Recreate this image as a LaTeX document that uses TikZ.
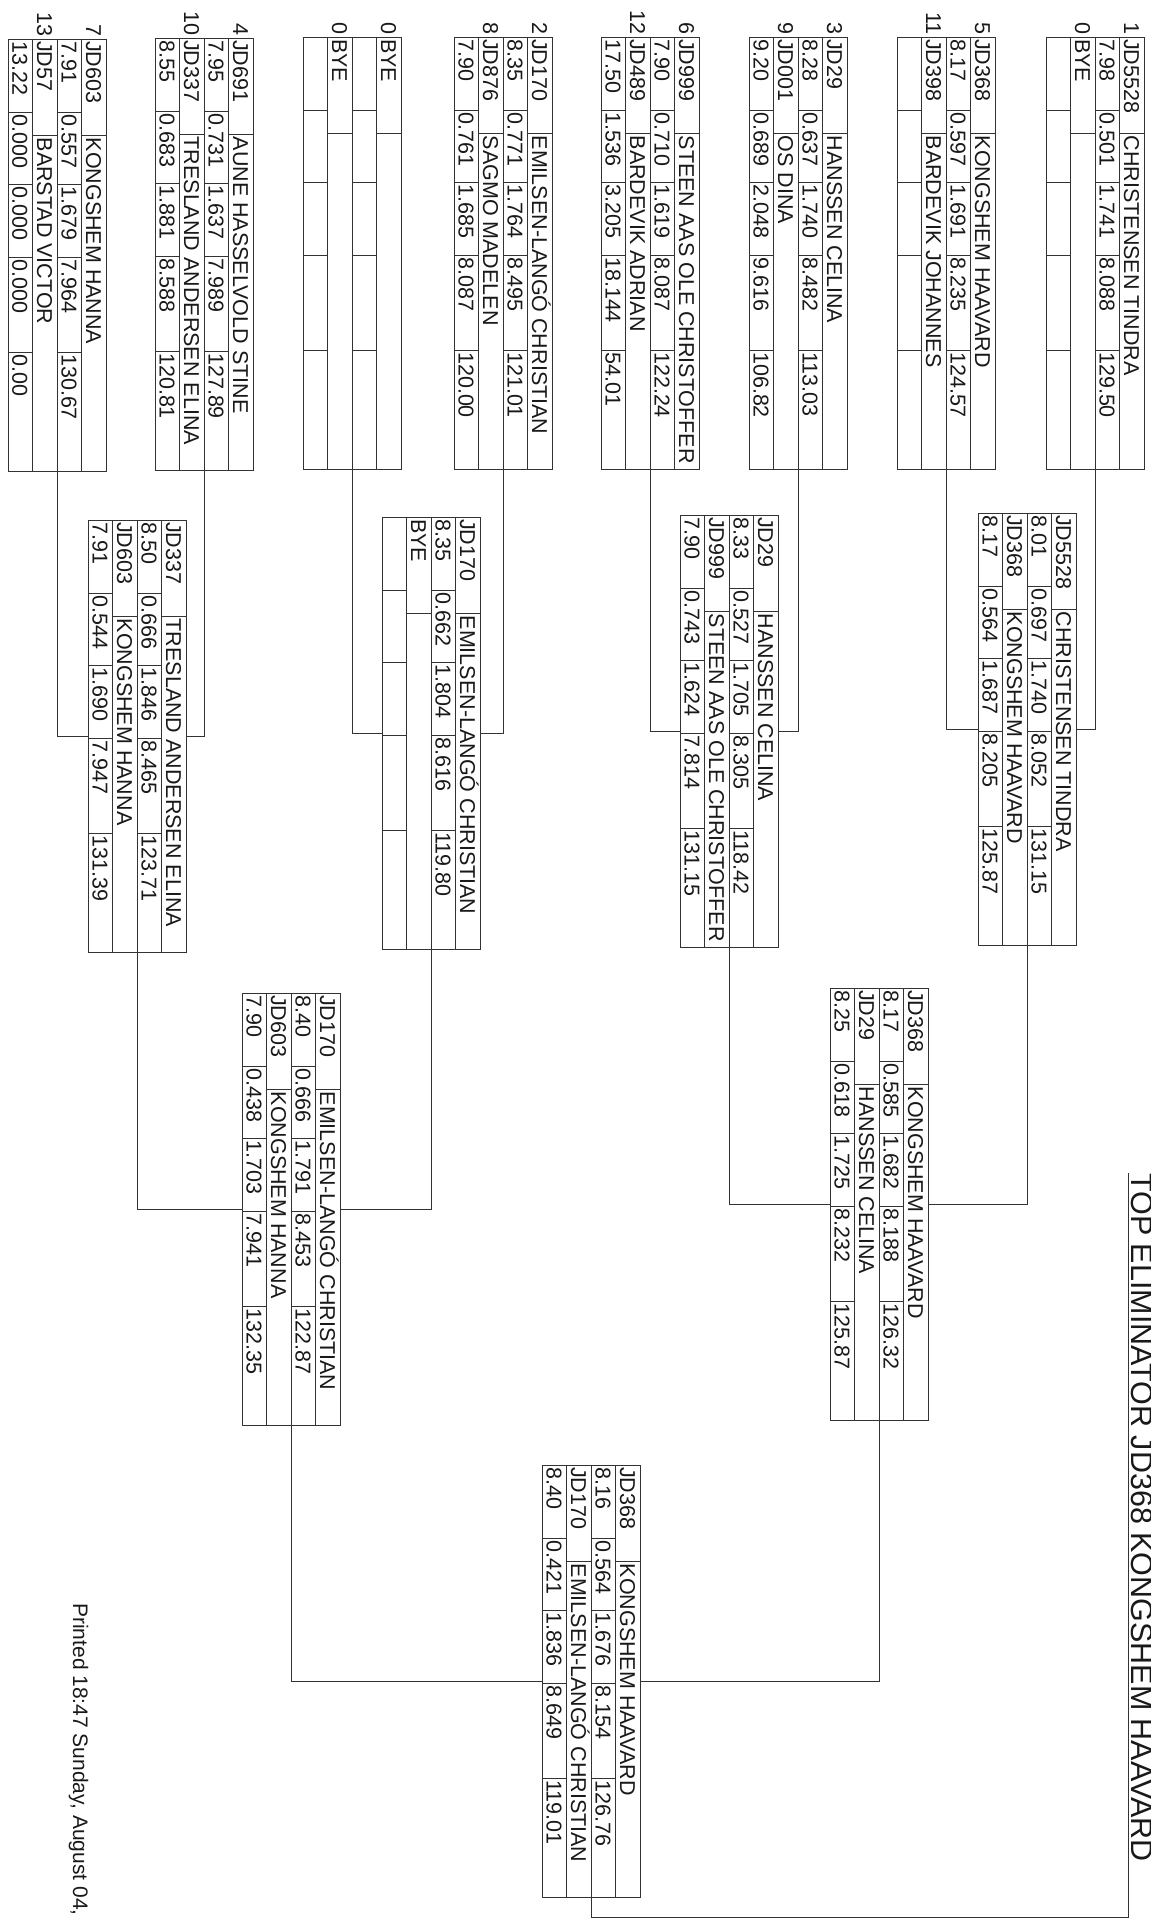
\documentclass[tikz,border=0pt]{standalone}
\usepackage{fontspec}
\setmainfont{Liberation Sans}
\tikzset{
  bkline/.style={draw=black!80, line width=0.8pt},
  bkbox/.style={draw=black!80, line width=0.8pt, rectangle, minimum width=98pt, minimum height=432pt, inner sep=0pt, outer sep=0pt},
  bktext/.style={rotate=-90, anchor=base west, inner sep=0pt, text=black!90, font=\fontsize{21.5}{24}\selectfont},
  bklink/.style={draw=black!80, line width=0.8pt},
  titletext/.style={rotate=-90, anchor=base west, inner sep=0pt, text=black!90, font=\fontsize{30.5}{34}\selectfont},
  printtext/.style={rotate=-90, anchor=base west, inner sep=0pt, text=black!90, font=\fontsize{21}{24}\selectfont}
}
% frame of one heat box: name, centre x, top y
\newcommand\bkframe[3]{%
  \node[bkbox] (#1) at (#2,{#3+216}) {};
  \foreach \k in {1,2,3} \draw[bkline] ({#2-49+24.5*\k},#3) -- ++(0,432);
  \foreach \k in {1,3} \draw[bkline] ({#2+49-24.5*\k},{#3+96}) -- ++(24.5,0);
  \foreach \k in {2,4} \foreach \d in {73,145,218,313} \draw[bkline] ({#2+49-24.5*\k},{#3+\d}) -- ++(24.5,0);
}
% text in a cell: cx, top, strip, offset, text
\newcommand\bkt[5]{\node[bktext] at ({#1+49-24.5*#3+4.5},{#2+#4}) {#5};}
\newcommand\bkname[5]{\bkt{#1}{#2}{#3}{2}{#4}\bkt{#1}{#2}{#3}{98.5}{#5}}
\newcommand\bkstat[8]{\bkt{#1}{#2}{#3}{2}{#4}\bkt{#1}{#2}{#3}{75}{#5}\bkt{#1}{#2}{#3}{147}{#6}\bkt{#1}{#2}{#3}{220}{#7}\bkt{#1}{#2}{#3}{315}{#8}}
\newcommand\bklane[4]{\node[bktext, anchor=base east] at ({#1+49-24.5*#3+4.5},{#2-2}) {#4};}
\begin{document}
\begin{tikzpicture}[x=1pt,y=-1pt]
\useasboundingbox (0,0) rectangle (1151,1922);
\fill[white] (0,0) rectangle (1151,1922);

% ---------- first round ----------
\bkframe{A}{1095}{37}
\bklane{1095}{37}{1}{1}\bklane{1095}{37}{3}{0}
\bkname{1095}{37}{1}{JD5528}{CHRISTENSEN TINDRA}
\bkstat{1095}{37}{2}{7.98}{0.501}{1.741}{8.088}{129.50}
\bkname{1095}{37}{3}{BYE}{}

\bkframe{B}{946}{37}
\bklane{946}{37}{1}{5}\bklane{946}{37}{3}{11}
\bkname{946}{37}{1}{JD368}{KONGSHEM HAAVARD}
\bkstat{946}{37}{2}{8.17}{0.597}{1.691}{8.235}{124.57}
\bkname{946}{37}{3}{JD398}{BARDEVIK JOHANNES}

\bkframe{C}{798}{37}
\bklane{798}{37}{1}{3}\bklane{798}{37}{3}{9}
\bkname{798}{37}{1}{JD29}{HANSSEN CELINA}
\bkstat{798}{37}{2}{8.28}{0.637}{1.740}{8.482}{113.03}
\bkname{798}{37}{3}{JD001}{OS DINA}
\bkstat{798}{37}{4}{9.20}{0.689}{2.048}{9.616}{106.82}

\bkframe{D}{650}{37}
\bklane{650}{37}{1}{6}\bklane{650}{37}{3}{12}
\bkname{650}{37}{1}{JD999}{STEEN AAS OLE CHRISTOFFER}
\bkstat{650}{37}{2}{7.90}{0.710}{1.619}{8.087}{122.24}
\bkname{650}{37}{3}{JD489}{BARDEVIK ADRIAN}
\bkstat{650}{37}{4}{17.50}{1.536}{3.205}{18.144}{54.01}

\bkframe{E}{503}{37}
\bklane{503}{37}{1}{2}\bklane{503}{37}{3}{8}
\bkname{503}{37}{1}{JD170}{EMILSEN-LANGÓ CHRISTIAN}
\bkstat{503}{37}{2}{8.35}{0.771}{1.764}{8.495}{121.01}
\bkname{503}{37}{3}{JD876}{SAGMO MADELEN}
\bkstat{503}{37}{4}{7.90}{0.761}{1.685}{8.087}{120.00}

\bkframe{F}{352}{37}
\bklane{352}{37}{1}{0}\bklane{352}{37}{3}{0}
\bkname{352}{37}{1}{BYE}{}
\bkname{352}{37}{3}{BYE}{}

\bkframe{G}{204}{38}
\bklane{204}{38}{1}{4}\bklane{204}{38}{3}{10}
\bkname{204}{38}{1}{JD691}{AUNE HASSELVOLD STINE}
\bkstat{204}{38}{2}{7.95}{0.731}{1.637}{7.989}{127.89}
\bkname{204}{38}{3}{JD337}{TRESLAND ANDERSEN ELINA}
\bkstat{204}{38}{4}{8.55}{0.683}{1.881}{8.588}{120.81}

\bkframe{H}{57}{39}
\bklane{57}{39}{1}{7}\bklane{57}{39}{3}{13}
\bkname{57}{39}{1}{JD603}{KONGSHEM HANNA}
\bkstat{57}{39}{2}{7.91}{0.557}{1.679}{7.964}{130.67}
\bkname{57}{39}{3}{JD57}{BARSTAD VICTOR}
\bkstat{57}{39}{4}{13.22}{0.000}{0.000}{0.000}{0.00}

% ---------- second round ----------
\bkframe{Ra}{1027}{513}
\bkname{1027}{513}{1}{JD5528}{CHRISTENSEN TINDRA}
\bkstat{1027}{513}{2}{8.01}{0.697}{1.740}{8.052}{131.15}
\bkname{1027}{513}{3}{JD368}{KONGSHEM HAAVARD}
\bkstat{1027}{513}{4}{8.17}{0.564}{1.687}{8.205}{125.87}

\bkframe{Rb}{729}{515}
\bkname{729}{515}{1}{JD29}{HANSSEN CELINA}
\bkstat{729}{515}{2}{8.33}{0.527}{1.705}{8.305}{118.42}
\bkname{729}{515}{3}{JD999}{STEEN AAS OLE CHRISTOFFER}
\bkstat{729}{515}{4}{7.90}{0.743}{1.624}{7.814}{131.15}

\bkframe{Rc}{431}{517}
\bkname{431}{517}{1}{JD170}{EMILSEN-LANGÓ CHRISTIAN}
\bkstat{431}{517}{2}{8.35}{0.662}{1.804}{8.616}{119.80}
\bkname{431}{517}{3}{BYE}{}

\bkframe{Rd}{137}{520}
\bkname{137}{520}{1}{JD337}{TRESLAND ANDERSEN ELINA}
\bkstat{137}{520}{2}{8.50}{0.666}{1.846}{8.465}{123.71}
\bkname{137}{520}{3}{JD603}{KONGSHEM HANNA}
\bkstat{137}{520}{4}{7.91}{0.544}{1.690}{7.947}{131.39}

% ---------- third round ----------
\bkframe{Qa}{879}{988}
\bkname{879}{988}{1}{JD368}{KONGSHEM HAAVARD}
\bkstat{879}{988}{2}{8.17}{0.585}{1.682}{8.188}{126.32}
\bkname{879}{988}{3}{JD29}{HANSSEN CELINA}
\bkstat{879}{988}{4}{8.25}{0.618}{1.725}{8.232}{125.87}

\bkframe{Qb}{291}{993}
\bkname{291}{993}{1}{JD170}{EMILSEN-LANGÓ CHRISTIAN}
\bkstat{291}{993}{2}{8.40}{0.666}{1.791}{8.453}{122.87}
\bkname{291}{993}{3}{JD603}{KONGSHEM HANNA}
\bkstat{291}{993}{4}{7.90}{0.438}{1.703}{7.941}{132.35}

% ---------- final ----------
\bkframe{Fin}{591}{1465}
\bkname{591}{1465}{1}{JD368}{KONGSHEM HAAVARD}
\bkstat{591}{1465}{2}{8.16}{0.564}{1.676}{8.154}{126.76}
\bkname{591}{1465}{3}{JD170}{EMILSEN-LANGÓ CHRISTIAN}
\bkstat{591}{1465}{4}{8.40}{0.421}{1.836}{8.649}{119.01}

% ---------- connectors ----------
\draw[bklink] (A.south) |- (Ra.east);
\draw[bklink] (B.south) |- (Ra.west);
\draw[bklink] (C.south) |- (Rb.east);
\draw[bklink] (D.south) |- (Rb.west);
\draw[bklink] (E.south) |- (Rc.east);
\draw[bklink] (F.south) |- (Rc.west);
\draw[bklink] (G.south) |- (Rd.east);
\draw[bklink] (H.south) |- (Rd.west);
\draw[bklink] (Ra.south) |- (Qa.east);
\draw[bklink] (Rb.south) |- (Qa.west);
\draw[bklink] (Rc.south) |- (Qb.east);
\draw[bklink] (Rd.south) |- (Qb.west);
\draw[bklink] (Qa.south) |- (Fin.east);
\draw[bklink] (Qb.south) |- (Fin.west);

\coordinate (wc) at (1128,1917);
\coordinate (wt) at (1128,1173);
\draw[bklink] (Fin.south) |- (wc) -- (wt);

\node[titletext] (title) at (1131,1173) {TOP ELIMINATOR JD368 KONGSHEM HAAVARD};
\node[printtext] (printed) at (73,1603) {Printed 18:47 Sunday, August 04,};
\end{tikzpicture}
\end{document}
